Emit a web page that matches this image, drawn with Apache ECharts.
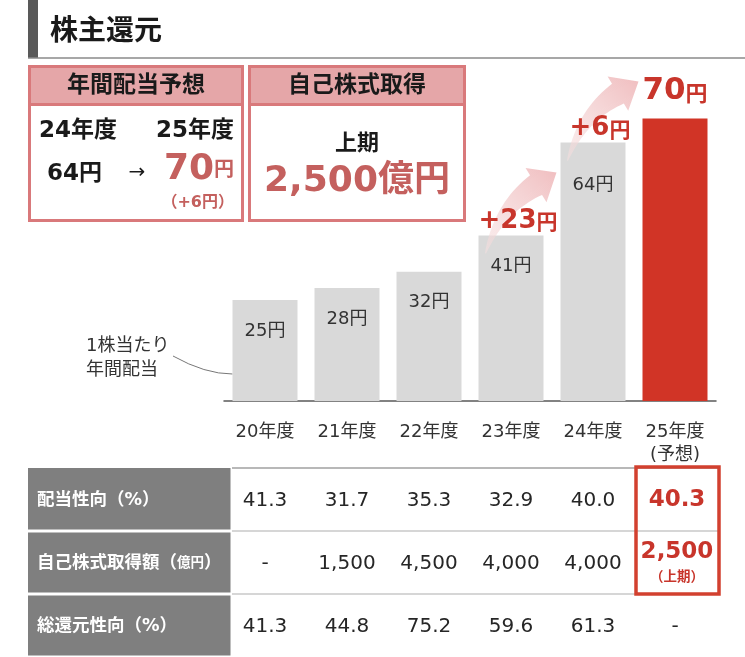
<!DOCTYPE html>
<html><head><meta charset="utf-8">
<script src="https://cdn.jsdelivr.net/npm/echarts@6/dist/echarts.min.js"></script>
<style>html,body{margin:0;padding:0;background:#fff}#c{width:745px;height:657px}</style>
</head><body><div id="c"></div>
<script>
// ---- data ----
const years = ['20年度','21年度','22年度','23年度','24年度','25年度\n(予想)'];
const dividends = [25, 28, 32, 41, 64, 70];
const increaseFrom = [3, 4];        // arrow starts at this bar, points to next
const increaseValues = [23, 6];
const rowNames = ['配当性向（%）', '自己株式取得額（億円）', '総還元性向（%）'];
const payoutRatio = ['41.3','31.7','35.3','32.9','40.0','40.3'];
const buyback = ['-','1,500','4,500','4,000','4,000','2,500'];
const totalReturn = ['41.3','44.8','75.2','59.6','61.3','-'];
const tableRows = [payoutRatio, buyback, totalReturn];
const highlightCol = 5;
const highlightRows = [0, 1];
const buybackNote = '（上期）';
const boxTitle1 = '年間配当予想';
const boxTitle2 = '自己株式取得';
const fromYear = '24年度', toYear = '25年度';
const fromDiv = 64, toDiv = 70;
const buybackPlan = '2,500億円', buybackPeriod = '上期';
const title = '株主還元';
const leaderText = '1株当たり\n年間配当';

// ---- style ----
const FF = '"DejaVu Sans","Noto Sans CJK JP",sans-serif';
const RED = '#c8352b';
const BARRED = '#d13426';
const BOXRED = '#c4605e';
const BOXLINE = '#d9797b';
const BOXFILL = '#e5a6a8';

const chart = echarts.init(document.getElementById('c'));

const cellData = [];
tableRows.forEach((r, ri) => r.forEach((v, ci) => cellData.push([ci, ri])));

chart.setOption({
  animation: false,
  textStyle: {fontFamily: FF},
  grid: [
    {left: 224, right: 29, top: 78, height: 323},
    {left: 224, right: 29, top: 468, bottom: 0}
  ],
  xAxis: [
    {gridIndex: 0, type: 'category', data: years,
     axisTick: {show: false},
     axisLine: {lineStyle: {color: '#595959', width: 1.5}},
     axisLabel: {fontSize: 18, color: '#333', margin: 20, lineHeight: 23, fontFamily: FF}},
    {gridIndex: 1, type: 'category', data: years, show: false}
  ],
  yAxis: [
    {gridIndex: 0, type: 'value', min: 0, max: 80, show: false},
    {gridIndex: 1, type: 'category', data: rowNames, inverse: true, show: false}
  ],
  series: [
    {
      type: 'bar', xAxisIndex: 0, yAxisIndex: 0, barWidth: 65,
      data: dividends.map((v, i) => {
        const last = i === dividends.length - 1;
        return {
          value: v,
          itemStyle: {color: last ? BARRED : '#d9d9d9'},
          label: last ? {
            show: true, position: 'top', distance: 12,
            formatter: p => `{a|${p.value}}{b|円}`,
            rich: {
              a: {fontSize: 31, fontWeight: 'bold', color: RED, fontFamily: FF, verticalAlign: 'bottom', lineHeight: 34},
              b: {fontSize: 22, fontWeight: 'bold', color: RED, fontFamily: FF, verticalAlign: 'bottom', lineHeight: 28}
            }
          } : {
            show: true, position: 'insideTop', distance: v > 60 ? 34 : 22,
            formatter: p => p.value + '円', fontSize: 18, color: '#333', fontFamily: FF
          }
        };
      })
    },
    {
      type: 'custom', xAxisIndex: 1, yAxisIndex: 1,
      data: rowNames.map((n, i) => [0, i]),
      renderItem(params, api) {
        const row = api.value(1);
        const c = api.coord([0, row]);
        const h = api.size([1, 1])[1];
        const cs = params.coordSys;
        const top = c[1] - h / 2;
        const xr = cs.x + 8;
        const txt = rowNames[row].replace('（億円）', '（{s|億円}）');
        return {type: 'group', children: [
          {type: 'rect', shape: {x: 28, y: top + (row ? 1.5 : 0), width: xr - 28 - 1.5, height: h - (row ? 1.5 : 0) - 1.5},
           style: {fill: '#7f7f7f'}},
          {type: 'line', shape: {x1: xr, y1: top, x2: cs.x + cs.width + 2, y2: top},
           style: {stroke: row ? '#c8c8c8' : '#a0a0a0', lineWidth: 1.5}},
          {type: 'text', x: 37, y: c[1] + 1,
           style: {text: txt, fill: '#fff', fontSize: 17.5, fontWeight: 'bold', fontFamily: FF,
                   align: 'left', verticalAlign: 'middle', textAlign: 'left', textVerticalAlign: 'middle',
                   rich: {s: {fontSize: 13.5, fontWeight: 'bold', fill: '#fff', fontFamily: FF}}}}
        ]};
      }
    },
    {
      type: 'custom', xAxisIndex: 1, yAxisIndex: 1,
      data: cellData,
      renderItem(params, api) {
        const col = api.value(0), row = api.value(1);
        const c = api.coord([col, row]);
        const h = api.size([1, 1])[1];
        const w = api.size([1, 1])[0];
        const text = tableRows[row][col];
        const hl = col === highlightCol && highlightRows.indexOf(row) >= 0;
        const children = [];
        if (hl && row === 1) {
          children.push({type: 'text', x: c[0] + 2, y: c[1] - 10,
            style: {text, fill: RED, fontSize: 23, fontWeight: 'bold', fontFamily: FF,
                    align: 'center', verticalAlign: 'middle', textAlign: 'center', textVerticalAlign: 'middle'}});
          children.push({type: 'text', x: c[0] + 2, y: c[1] + 15,
            style: {text: buybackNote, fill: RED, fontSize: 13.5, fontWeight: 'bold', fontFamily: FF,
                    align: 'center', verticalAlign: 'middle', textAlign: 'center', textVerticalAlign: 'middle'}});
        } else {
          children.push({type: 'text', x: c[0] + (hl ? 2 : 0), y: c[1] + 1,
            style: {text, fill: hl ? RED : '#262626', fontSize: hl ? 23 : 20, fontWeight: hl ? 'bold' : 'normal', fontFamily: FF,
                    align: 'center', verticalAlign: 'middle', textAlign: 'center', textVerticalAlign: 'middle'}});
        }
        if (col === highlightCol && row === highlightRows[0]) {
          const top = c[1] - h / 2 - 1;
          children.push({type: 'rect', z2: 10,
            shape: {x: c[0] - w / 2 + 2, y: top, width: w + 1, height: h * highlightRows.length + 1},
            style: {fill: null, stroke: '#d2402f', lineWidth: 3.5}});
        }
        return {type: 'group', children};
      }
    }
  ]
});

// ---- decorations anchored to bars ----
function px(i, v) { return chart.convertToPixel({gridIndex: 0}, [i, v]); }
const halfBar = 32.5;

function arrowPoints(S, E) {
  const ang = Math.atan2(E[1] - S[1], E[0] - S[0]);
  const hd = [Math.cos(ang + 0.3), Math.sin(ang + 0.3)];
  const headLen = 24;
  const B = [E[0] - hd[0] * headLen, E[1] - hd[1] * headLen];
  const dist = Math.hypot(B[0] - S[0], B[1] - S[1]);
  const C = [B[0] - hd[0] * dist * 0.5, B[1] - hd[1] * dist * 0.5];
  const n = 20, L = [], R = [];
  for (let k = 0; k <= n; k++) {
    const t = k / n;
    const P = [(1-t)*(1-t)*S[0] + 2*(1-t)*t*C[0] + t*t*B[0], (1-t)*(1-t)*S[1] + 2*(1-t)*t*C[1] + t*t*B[1]];
    const T = [2*(1-t)*(C[0]-S[0]) + 2*t*(B[0]-C[0]), 2*(1-t)*(C[1]-S[1]) + 2*t*(B[1]-C[1])];
    const len = Math.hypot(T[0], T[1]);
    const N = [-T[1] / len, T[0] / len];
    const wd = 0.5 + 11 * Math.pow(t, 0.9);
    L.push([P[0] + N[0] * wd, P[1] + N[1] * wd]);
    R.push([P[0] - N[0] * wd, P[1] - N[1] * wd]);
  }
  const N1 = [-hd[1], hd[0]];
  const hw = 20;
  return L.concat([[B[0] + N1[0] * hw, B[1] + N1[1] * hw], E, [B[0] - N1[0] * hw, B[1] - N1[1] * hw]], R.reverse());
}

const g = [];
// title
g.push({type: 'rect', shape: {x: 28, y: 0, width: 10, height: 58}, style: {fill: '#595959'}});
g.push({type: 'line', shape: {x1: 28, y1: 58, x2: 745, y2: 58}, style: {stroke: '#8a8a8a', lineWidth: 1.5}});
g.push({type: 'text', x: 50, y: 33, style: {text: title, fontSize: 28, fontWeight: 'bold', fill: '#1a1a1a', fontFamily: FF,
  align: 'left', verticalAlign: 'middle', textAlign: 'left', textVerticalAlign: 'middle'}});

function txt(x, y, text, size, opts) {
  return Object.assign({type: 'text', x, y, z: 20, style: Object.assign({text, fontSize: size, fontWeight: 'bold', fill: '#1a1a1a', fontFamily: FF,
    align: 'center', verticalAlign: 'middle', textAlign: 'center', textVerticalAlign: 'middle'}, opts || {})});
}
function setAlign(a) { return {align: a, textAlign: a}; }

// box 1
g.push({type: 'rect', shape: {x: 29.5, y: 66.5, width: 213, height: 154}, style: {fill: '#fff', stroke: BOXLINE, lineWidth: 3}});
g.push({type: 'rect', shape: {x: 29.5, y: 66.5, width: 213, height: 38}, style: {fill: BOXFILL, stroke: BOXLINE, lineWidth: 3}});
g.push(txt(136, 86, boxTitle1, 23));
g.push(txt(39, 131, fromYear, 23, setAlign('left')));
g.push(txt(234, 131, toYear, 23, setAlign('right')));
g.push(txt(47, 174, fromDiv + '円', 23, setAlign('left')));
g.push(txt(137, 173, '→', 20, {fontWeight: 'normal'}));
g.push(txt(234, 181, '円', 20, Object.assign(setAlign('right'), {fill: BOXRED, verticalAlign: 'bottom', textVerticalAlign: 'bottom'})));
g.push(txt(214, 188, String(toDiv), 36, Object.assign(setAlign('right'), {fill: BOXRED, verticalAlign: 'bottom', textVerticalAlign: 'bottom'})));
g.push(txt(234, 203, '（+' + (toDiv - fromDiv) + '円）', 16, Object.assign(setAlign('right'), {fill: BOXRED})));

// box 2
g.push({type: 'rect', shape: {x: 249.5, y: 66.5, width: 215, height: 154}, style: {fill: '#fff', stroke: BOXLINE, lineWidth: 3}});
g.push({type: 'rect', shape: {x: 249.5, y: 66.5, width: 215, height: 38}, style: {fill: BOXFILL, stroke: BOXLINE, lineWidth: 3}});
g.push(txt(357, 86, boxTitle2, 23));
g.push(txt(357, 144, buybackPeriod, 22));
g.push(txt(357, 182, buybackPlan, 36, {fill: BOXRED}));

// leader annotation
const b0 = px(0, dividends[0]);
const base = px(0, 0);
g.push({type: 'text', x: 86, y: 358, style: {text: leaderText, fontSize: 18, fill: '#333', fontFamily: FF, lineHeight: 24,
  align: 'left', verticalAlign: 'middle', textAlign: 'left', textVerticalAlign: 'middle'}});
g.push({type: 'bezierCurve', shape: {x1: 173, y1: 356, cpx1: 205, cpy1: 374, x2: b0[0] - halfBar, y2: base[1] - 27},
  style: {stroke: '#777', lineWidth: 1, fill: null}});

// arrows + increase labels
increaseFrom.forEach((i, k) => {
  const a = px(i, dividends[i]);
  const b = px(i + 1, dividends[i + 1]);
  const S = [a[0] - halfBar + 7, a[1] + 18];
  const E = k === 0 ? [b[0] - halfBar - 4, b[1] + 30] : [b[0] - halfBar - 4, b[1] - 37];
  g.push({type: 'polygon', z: 10, shape: {points: arrowPoints(S, E)},
    style: {fill: new echarts.graphic.LinearGradient(S[0], S[1], E[0], E[1], [
      {offset: 0, color: 'rgba(246,224,224,0.55)'}, {offset: 1, color: 'rgba(238,180,182,0.85)'}], true)}});
  g.push({type: 'text', x: a[0] + 7, y: a[1] - 16, z: 20,
    style: {text: '{a|+' + increaseValues[k] + '}{b|円}', fontFamily: FF,
      align: 'center', verticalAlign: 'middle', textAlign: 'center', textVerticalAlign: 'middle',
      rich: {a: {fontSize: 26, fontWeight: 'bold', fill: RED, fontFamily: FF, verticalAlign: 'bottom', lineHeight: 30},
             b: {fontSize: 21, fontWeight: 'bold', fill: RED, fontFamily: FF, verticalAlign: 'bottom', lineHeight: 27}}}});
});

chart.setOption({graphic: {elements: g}});
</script>
</body></html>
